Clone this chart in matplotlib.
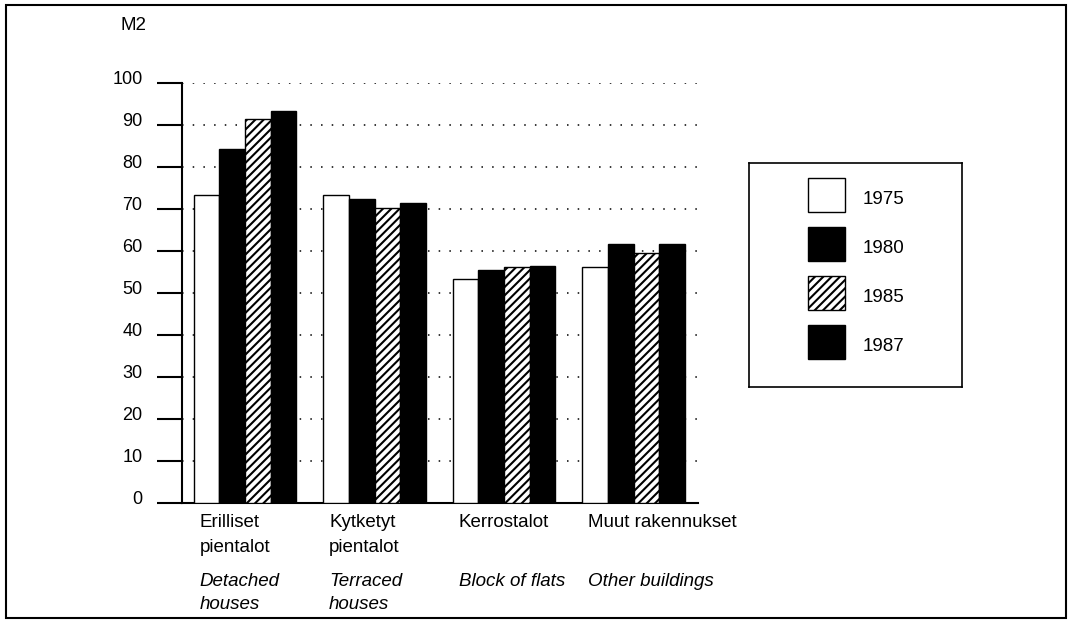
import numpy as np
import matplotlib
matplotlib.use("Agg")
import matplotlib.pyplot as plt
from matplotlib.patches import Rectangle
import matplotlib.transforms as mtransforms

plt.rcParams['font.family'] = ['Liberation Sans', 'DejaVu Sans']
plt.rcParams['hatch.linewidth'] = 1.5

# --------------------------------------------------------------------------- #
years = ['1975', '1980', '1985', '1987']
cat_fi = ['Erilliset\npientalot', 'Kytketyt\npientalot', 'Kerrostalot', 'Muut rakennukset']
cat_en = ['Detached\nhouses', 'Terraced\nhouses', 'Block of flats', 'Other buildings']
v1975 = [73.3, 73.4, 53.4, 56.3]
v1980 = [84.2, 72.3, 55.5, 61.7]
v1985 = [91.4, 70.3, 56.3, 59.5]
v1987 = [93.3, 71.5, 56.4, 61.7]
yticks = [0, 10, 20, 30, 40, 50, 60, 70, 80, 90, 100]

series = [v1975, v1980, v1985, v1987]
faces = ['white', 'black', 'white', 'black']
hatches = [None, None, '////', None]

W, H = 1069, 620
fig = plt.figure(figsize=(W / 100, H / 100), dpi=100)
ax = fig.add_axes([182 / W, 1 - 503 / H, (698 - 182) / W, (503 - 83) / H])

x = np.arange(len(cat_fi))
bw = 0.197
for j, vals in enumerate(series):
  ax.bar(x + (j - 1.5) * bw, vals, width=bw, color=faces[j], edgecolor='black',
         linewidth=1.0, hatch=hatches[j], zorder=3)

ax.set_xlim(-0.4865, 3.498)
ax.set_ylim(0, 100)
ax.set_yticks(yticks)
ax.set_yticklabels([str(t) for t in yticks], fontsize=13)
ax.set_xticks([])
ax.tick_params(axis='y', length=18, width=1.5, pad=10.5, direction='out')
# labels sit a bit above their ticks in the original
off = mtransforms.ScaledTranslation(0, 5 / 100, fig.dpi_scale_trans)
for lab in ax.get_yticklabels():
  lab.set_transform(lab.get_transform() + off)

for t in yticks[1:]:
  ax.axhline(t, color='black', linewidth=1.1, linestyle=(0, (1, 6)), zorder=1)

for s in ['top', 'right']:
  ax.spines[s].set_visible(False)
ax.spines['left'].set_linewidth(1.5)
ax.spines['bottom'].set_linewidth(1.5)

# category labels under the groups, one line at a time
fi_rows = [-4.6, -10.6]
en_rows = [-18.8, -24.2]
for i in range(len(cat_fi)):
  for k, line in enumerate(cat_fi[i].split('\n')):
    ax.text(x[i] - 0.35, fi_rows[k], line, ha='left', va='center', fontsize=13.5)
  for k, line in enumerate(cat_en[i].split('\n')):
    ax.text(x[i] - 0.35, en_rows[k], line, ha='left', va='center', fontsize=13.5,
            style='italic')

fig.text(134 / W, 1 - 25 / H, 'M2', ha='center', va='center', fontsize=13.5)

# legend box
lax = fig.add_axes([749 / W, 1 - 387 / H, (962 - 749) / W, (387 - 163) / H])
lax.set_xlim(749, 962)
lax.set_ylim(387, 163)
lax.set_xticks([])
lax.set_yticks([])
for s in lax.spines.values():
  s.set_linewidth(1.2)
for j, yr in enumerate(years):
  yc = 195 + j * 49
  lax.add_patch(Rectangle((808, yc - 17), 37, 34, facecolor=faces[j],
                          edgecolor='black', linewidth=1.0, hatch=hatches[j]))
  lax.text(863, yc + 5, yr, ha='left', va='center', fontsize=13.5)

# outer frame
fig.add_artist(Rectangle((6 / W, 1 - 618 / H), 1060 / W, 613 / H, transform=fig.transFigure,
                         fill=False, edgecolor='black', linewidth=1.5))

fig.savefig('out.png', dpi=100)
